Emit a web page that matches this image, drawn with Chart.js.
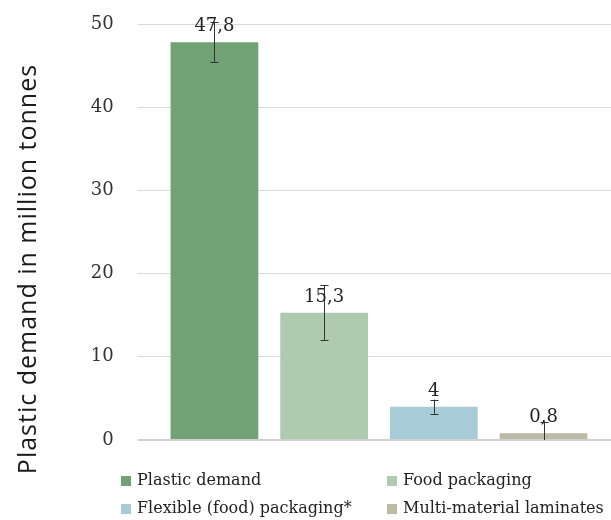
<!DOCTYPE html>
<html>
<head>
<meta charset="utf-8">
<script src="https://cdn.jsdelivr.net/npm/chart.js@4"></script>
<style>
  html, body { margin: 0; padding: 0; background: #fff; }
  #wrap { width: 611px; height: 520px; }
</style>
</head>
<body>
<div id="wrap"><canvas id="chart"></canvas></div>
<script>
const categories = [
  "Plastic demand",
  "Food packaging",
  "Flexible (food) packaging*",
  "Multi-material laminates",
];
const values = [47.8, 15.3, 4, 0.8];
const errors = [2.4, 3.3, 0.85, 1.4];
const valueLabels = ["47,8", "15,3", "4", "0,8"];
const barColors = ["#70a276", "#afcbaf", "#a8ccd7", "#bdb9a7"];
const yTitle = "Plastic demand in million tonnes";

const serif = "'DejaVu Serif', serif";

// same rounding chart.js uses for 1px grid lines
const align = (p) => Math.round(p - 0.5) + 0.5;

// error bars, value labels, grid extension, axis title and legend
const extras = {
  id: "extras",
  beforeDatasetsDraw(chart) {
    const { ctx, chartArea, scales } = chart;
    ctx.save();
    ctx.strokeStyle = "#d9d9d9";
    ctx.lineWidth = 1;
    for (let v = 10; v <= 50; v += 10) {
      const y = align(scales.y.getPixelForValue(v));
      ctx.beginPath();
      ctx.moveTo(chartArea.right - 1, y);
      ctx.lineTo(chart.width, y);
      ctx.stroke();
    }
    ctx.strokeStyle = "#d0d0d0";
    ctx.lineWidth = 2;
    const y0 = Math.round(scales.y.getPixelForValue(0));
    ctx.beginPath();
    ctx.moveTo(chartArea.right - 1, y0);
    ctx.lineTo(chart.width, y0);
    ctx.stroke();
    ctx.restore();
  },
  afterDatasetsDraw(chart) {
    const { ctx, chartArea, scales } = chart;
    const meta = chart.getDatasetMeta(0);
    ctx.save();
    ctx.beginPath();
    ctx.rect(chartArea.left, chartArea.top - 2, chartArea.width, chartArea.height + 2);
    ctx.clip();
    ctx.strokeStyle = "#333";
    ctx.lineWidth = 1;
    meta.data.forEach((bar, i) => {
      const x = Math.round(bar.x) + 0.5;
      const yHi = scales.y.getPixelForValue(values[i] + errors[i]);
      const yLo = scales.y.getPixelForValue(values[i] - errors[i]);
      ctx.beginPath();
      ctx.moveTo(x, yHi);
      ctx.lineTo(x, yLo);
      ctx.moveTo(x - 4, Math.round(yHi) + 0.5);
      ctx.lineTo(x + 4, Math.round(yHi) + 0.5);
      ctx.moveTo(x - 4, Math.round(yLo) + 0.5);
      ctx.lineTo(x + 4, Math.round(yLo) + 0.5);
      ctx.stroke();
    });
    ctx.restore();

    ctx.save();
    ctx.fillStyle = "#222";
    ctx.font = "18px " + serif;
    ctx.textAlign = "center";
    ctx.textBaseline = "alphabetic";
    meta.data.forEach((bar, i) => {
      ctx.fillText(valueLabels[i], bar.x, bar.y - 11);
    });
    ctx.restore();
  },
  afterDraw(chart) {
    const { ctx } = chart;
    ctx.save();
    ctx.fillStyle = "#1a1a1a";
    ctx.font = "25px 'Open Sans', sans-serif";
    ctx.letterSpacing = "1px";
    ctx.translate(36, 269);
    ctx.rotate(-Math.PI / 2);
    ctx.textAlign = "center";
    ctx.textBaseline = "alphabetic";
    ctx.fillText(yTitle, 0, 0);
    ctx.restore();

    // legend: two columns, two rows
    const colX = [121, 387];
    const rowY = [481, 509];
    ctx.save();
    ctx.font = "16px " + serif;
    ctx.textBaseline = "middle";
    ctx.textAlign = "left";
    categories.forEach((name, i) => {
      const x = colX[i % 2];
      const y = rowY[Math.floor(i / 2)];
      ctx.fillStyle = barColors[i];
      ctx.fillRect(x, y - 5, 10, 10);
      ctx.fillStyle = "#222";
      ctx.fillText(name, x + 16, y);
    });
    ctx.restore();
  },
};

new Chart(document.getElementById("chart"), {
  type: "bar",
  data: {
    labels: categories,
    datasets: [
      {
        data: values,
        backgroundColor: barColors,
        borderWidth: 0,
        barPercentage: 0.8,
        categoryPercentage: 1,
      },
    ],
  },
  options: {
    responsive: true,
    maintainAspectRatio: false,
    animation: false,
    layout: { padding: { left: 0, top: 24, right: 12.6, bottom: 80 } },
    scales: {
      x: { display: false },
      y: {
        min: 0,
        max: 50,
        afterFit(scale) {
          scale.width = 159.6;
          scale.paddingTop = 10;
          scale.paddingBottom = 10;
        },
        ticks: {
          stepSize: 10,
          padding: 24,
          color: "#333",
          font: { family: serif, size: 18 },
        },
        border: { display: false },
        grid: {
          color: (c) => (c.tick && c.tick.value === 0 ? "#d0d0d0" : "#d9d9d9"),
          lineWidth: (c) => (c.tick && c.tick.value === 0 ? 2 : 1),
          tickLength: 22,
        },
      },
    },
    plugins: {
      legend: { display: false },
      tooltip: { enabled: false },
    },
  },
  plugins: [extras],
});
</script>
</body>
</html>
